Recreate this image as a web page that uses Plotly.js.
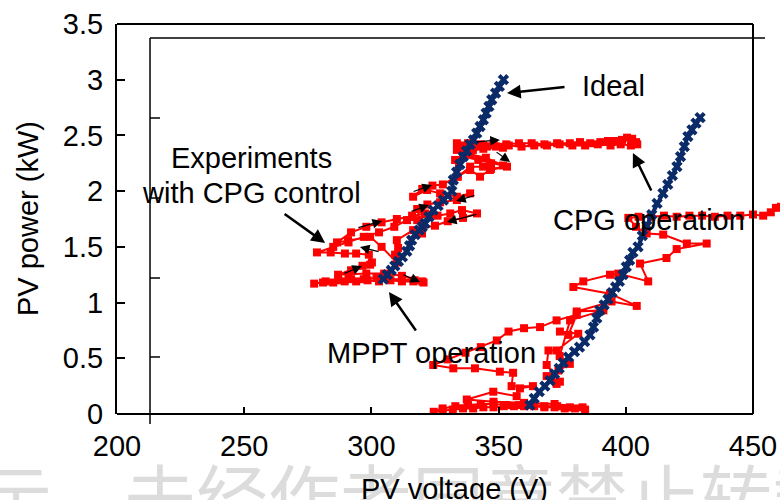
<!DOCTYPE html>
<html>
<head>
<meta charset="utf-8">
<script src="https://cdn.plot.ly/plotly-3.0.1.min.js"></script>
<style>
  html, body { margin: 0; padding: 0; background: #ffffff; }
  #chart { width: 780px; height: 500px; }
</style>
</head>
<body>
<div id="chart"></div>
<script>
// Ideal P-V trajectory, low-irradiance branch (V, kW)
const idealAV = [304.7,306.2,307.8,309.2,310.6,312.2,313.9,315.0,315.8,317.2,318.8,320.0,321.1,322.6,324.3,326.2,328.3,330.0,331.6,332.2,333.5,334.8,336.1,337.4,338.8,340.1,341.4,342.7,344.0,345.1,346.2,347.3,348.8,350.3,351.9];
const idealAP = [1.21,1.25,1.29,1.33,1.37,1.41,1.46,1.51,1.56,1.61,1.65,1.68,1.71,1.77,1.83,1.87,1.92,1.96,2.00,2.10,2.17,2.24,2.31,2.36,2.42,2.46,2.52,2.58,2.64,2.70,2.76,2.82,2.88,2.94,3.00];

// Ideal P-V trajectory, second branch (V, kW)
const idealBV = [362.3,364.0,366.0,368.2,370.2,372.0,373.8,375.4,377.5,379.8,381.8,383.8,385.9,387.3,388.6,389.8,391.5,393.0,394.6,396.0,397.5,398.9,400.2,401.5,402.8,404.8,406.5,408.3,410.2,412.3,414.6,416.5,418.3,420.1,421.5,423.0,424.4,426.0,427.6,429.2];
const idealBP = [0.08,0.14,0.20,0.25,0.30,0.36,0.41,0.46,0.51,0.56,0.60,0.65,0.71,0.78,0.86,0.93,0.98,1.03,1.09,1.14,1.19,1.25,1.32,1.38,1.45,1.50,1.60,1.69,1.79,1.89,1.98,2.06,2.14,2.22,2.31,2.40,2.49,2.55,2.61,2.66];

// Measured operating points with CPG control, first run (V, kW)
const expAV = [320.5,316.5,312,307.5,303,298.5,294,289.5,285,281,277.5,282,287,292,297,302,307,312,317,320,
  312,305,298,291,286.9,292,296.5,299.5,300.2,299,294,289.6,284,278.6,
  285,291,297,303,309,314,318,323,319.9,316.4,310,310.5,309.3,310,304,299.5,290.8,286.5,
  292,298,304,310,316,321,326,331,335.6,341.5,336,330,325,320,
  318,322,327,333.6,338.8,333.6,327,321.9,316.4,320,324,328.1,333.6,338.8,342.7,346.6,353.3,347,343.9,338.8,334,332.9,336,342,347,351.7,345,339,333.6,339.9,345.4,351.7,344,336,333.6,338,
  343,348,353,358,363,368,373,378,382,386,390,393,396,398.5,400.5,402.5,404,404.5,402,398,394,389,384,379,374,369,364,359,354,349,344,339,335];
const expAP = [1.18,1.19,1.19,1.20,1.19,1.20,1.19,1.19,1.18,1.18,1.17,1.19,1.20,1.21,1.21,1.22,1.21,1.21,1.20,1.19,
  1.24,1.26,1.26,1.25,1.25,1.29,1.33,1.34,1.36,1.43,1.44,1.44,1.45,1.45,
  1.50,1.54,1.59,1.63,1.68,1.74,1.74,1.79,1.62,1.65,1.56,1.49,1.43,1.36,1.50,1.59,1.56,1.54,
  1.63,1.68,1.72,1.75,1.78,1.80,1.78,1.80,1.83,1.80,1.76,1.73,1.69,1.67,
  1.84,1.88,1.90,1.92,1.98,1.95,1.98,2.01,1.95,2.02,2.05,2.06,2.13,2.19,2.13,2.19,2.22,2.20,2.22,2.22,2.13,2.28,2.31,2.28,2.25,2.23,2.30,2.33,2.37,2.37,2.40,2.39,2.38,2.35,2.43,2.43,
  2.42,2.43,2.42,2.43,2.43,2.42,2.43,2.43,2.44,2.43,2.44,2.45,2.45,2.46,2.48,2.47,2.44,2.42,2.41,2.42,2.41,2.42,2.41,2.41,2.42,2.41,2.41,2.40,2.41,2.40,2.41,2.40,2.41];

// Measured operating points with CPG control, second run (V, kW)
const expBV = [384,380,376,372,368,364,360,356,352,348,344,340,336,332,328,324.5,
  328,333,338,343,348,353,358,363,368,373,378,383,
  372,360,348,337.5,347.9,357.1,358.4,363.5,355.1,355.7,350.5,340.7,332.2,324.3,
  330,337,343,349.3,353.9,360,366.3,372.8,380.7,
  377.4,374.1,381.3,372.8,369.6,368.9,374.1,370.8,372.8,368.9,373.5,378,374,378.1,
  391.2,380.7,394.4,404.3,393.8,379.4,383.3,393.8,397,408.8,
  405.6,416,420,431.8,424,414.7,408.2,404,401,
  405,410,415,420,425,430,435,440,445,450,454,457,459,461];
const expBP = [0.04,0.05,0.05,0.06,0.06,0.07,0.07,0.07,0.07,0.06,0.06,0.05,0.05,0.04,0.03,0.02,
  0.05,0.07,0.08,0.09,0.09,0.08,0.08,0.08,0.07,0.07,0.06,0.06,
  0.09,0.10,0.11,0.13,0.20,0.16,0.23,0.25,0.25,0.37,0.38,0.41,0.41,0.44,
  0.49,0.55,0.60,0.66,0.74,0.77,0.78,0.84,0.89,
  0.71,0.74,0.72,0.57,0.57,0.44,0.29,0.32,0.27,0.34,0.39,0.45,0.52,0.84,
  0.93,0.92,1.01,0.97,1.08,1.14,1.19,1.25,1.26,1.19,
  1.35,1.40,1.48,1.53,1.53,1.61,1.62,1.68,1.76,
  1.77,1.77,1.78,1.77,1.78,1.78,1.77,1.78,1.78,1.79,1.78,1.81,1.85,1.86];

// Axis ticks
const xTicks = [200, 250, 300, 350, 400, 450];
const yTicks = [0, 0.5, 1, 1.5, 2, 2.5, 3, 3.5];

const FONT = 'Liberation Sans, Arial, sans-serif';
const RED = '#ff0000';
const NAVY = '#0b2a68';

function expTrace(v, p) {
  return {
    x: v, y: p, type: 'scatter', mode: 'lines+markers',
    line: { color: RED, width: 2 },
    marker: { symbol: 'square', size: 8, color: RED },
    hoverinfo: 'skip', showlegend: false
  };
}
function idealTrace(v, p) {
  return {
    x: v, y: p, type: 'scatter', mode: 'lines+markers',
    line: { color: NAVY, width: 4 },
    marker: { symbol: 'x', size: 10, color: NAVY, line: { width: 0 } },
    hoverinfo: 'skip', showlegend: false
  };
}

const data = [
  expTrace(expAV, expAP),
  expTrace(expBV, expBP),
  idealTrace(idealAV, idealAP),
  idealTrace(idealBV, idealBP)
];

// frame of the plot (outer box ends at V = 450)
const xEnd = 636 / 663;
function line(x0, y0, x1, y1, w) {
  return { type: 'line', xref: 'paper', yref: 'paper', x0, y0, x1, y1,
           line: { color: '#000', width: w }, layer: 'above' };
}
const shapes = [
  line(0, 1, xEnd, 1, 2),
  line(xEnd, 0, xEnd, 1, 2),
  line(0, 0, xEnd, 0, 2),
  // secondary frame
  line(0.0498, -0.0256, 0.0498, 0.9641, 1.5),
  line(0.0498, 0.9641, 0.9774, 0.9641, 1.5),
  line(0.0498, 0.7590, 0.0649, 0.7590, 1.5),
  line(0.0498, 0.5538, 0.0649, 0.5538, 1.5),
  line(0.0498, 0.3487, 0.0649, 0.3487, 1.5),
  line(0.0498, 0.1462, 0.0649, 0.1462, 1.5)
];

function label(text, x, y, size) {
  return { text, x, y, xref: 'x', yref: 'y', showarrow: false,
           xanchor: 'center', yanchor: 'middle',
           font: { family: FONT, size: size || 29, color: '#000' } };
}
function arrow(x, y, ax, ay, big) {
  return { text: '', x, y, ax, ay, xref: 'x', yref: 'y', axref: 'x', ayref: 'y',
           showarrow: true, arrowhead: 2, arrowcolor: '#000',
           arrowwidth: big ? 2.5 : 1.2, arrowsize: big ? 1.1 : 1.6,
           standoff: 0, startstandoff: 0 };
}

const annotations = [
  // faint overprint along the bottom edge
  { text: '示，未经作者同意禁止转载', xref: 'paper', yref: 'paper',
    x: -0.2097, y: -0.205, xanchor: 'left', yanchor: 'middle', showarrow: false,
    font: { family: 'Noto Sans CJK SC', size: 72, color: '#dcdcdc' } },
  { text: 'PV voltage (V)', xref: 'paper', yref: 'paper', x: 0.509, y: -0.1923,
    xanchor: 'center', yanchor: 'middle', showarrow: false,
    font: { family: FONT, size: 29, color: '#000' } },
  { text: 'PV power (kW)', xref: 'paper', yref: 'paper', x: -0.1342, y: 0.5,
    xanchor: 'center', yanchor: 'middle', showarrow: false, textangle: -90,
    font: { family: FONT, size: 29, color: '#000' } },

  label('Ideal', 395, 2.944),
  label('Experiments', 252.7, 2.297),
  label('with CPG control', 252.7, 1.983),
  label('MPPT operation', 323.8, 0.547),
  label('CPG operation', 409.1, 1.741),

  arrow(353.3, 2.88, 376.5, 2.935, true),
  arrow(281.8, 1.535, 265.3, 1.804, true),
  arrow(306.9, 1.095, 317.9, 0.736, true),
  arrow(402.8, 2.342, 410.3, 1.992, true),

  // direction of travel along the measured path
  arrow(350.5, 2.459, 340.7, 2.441),
  arrow(354.5, 2.262, 348.6, 2.360),
  arrow(323.8, 2.055, 316.0, 1.992),
  arrow(333.3, 1.911, 341.1, 1.965),
  arrow(322.6, 1.876, 315.2, 1.813),
  arrow(304.2, 1.732, 294.3, 1.669),
  arrow(329.7, 1.723, 341.9, 1.795),
  arrow(295.5, 1.499, 303.4, 1.454),
  arrow(296.3, 1.328, 288.8, 1.256),
  arrow(319.1, 1.185, 312.0, 1.256)
];

const layout = {
  width: 780, height: 500,
  margin: { l: 117, r: 0, t: 24, b: 86, pad: 0 },
  paper_bgcolor: '#ffffff', plot_bgcolor: 'rgba(0,0,0,0)',
  font: { family: FONT, size: 29, color: '#000' },
  showlegend: false,
  xaxis: {
    range: [200, 200 + 663 / 2.544], tickvals: xTicks, ticktext: xTicks.map(String),
    ticks: 'inside', ticklen: 7, tickwidth: 2, tickcolor: '#000',
    showline: false, showgrid: false, zeroline: false,
    tickfont: { family: FONT, size: 29, color: '#000' },
    ticklabelstandoff: 12
  },
  yaxis: {
    range: [0, 3.5], tickvals: yTicks, ticktext: yTicks.map(String),
    ticks: 'inside', ticklen: 8, tickwidth: 2, tickcolor: '#000',
    showline: true, linewidth: 2, linecolor: '#000',
    showgrid: false, zeroline: false,
    tickfont: { family: FONT, size: 29, color: '#000' },
    ticklabelstandoff: 6
  },
  shapes, annotations
};

Plotly.newPlot('chart', data, layout, { displayModeBar: false, staticPlot: true });
</script>
</body>
</html>
